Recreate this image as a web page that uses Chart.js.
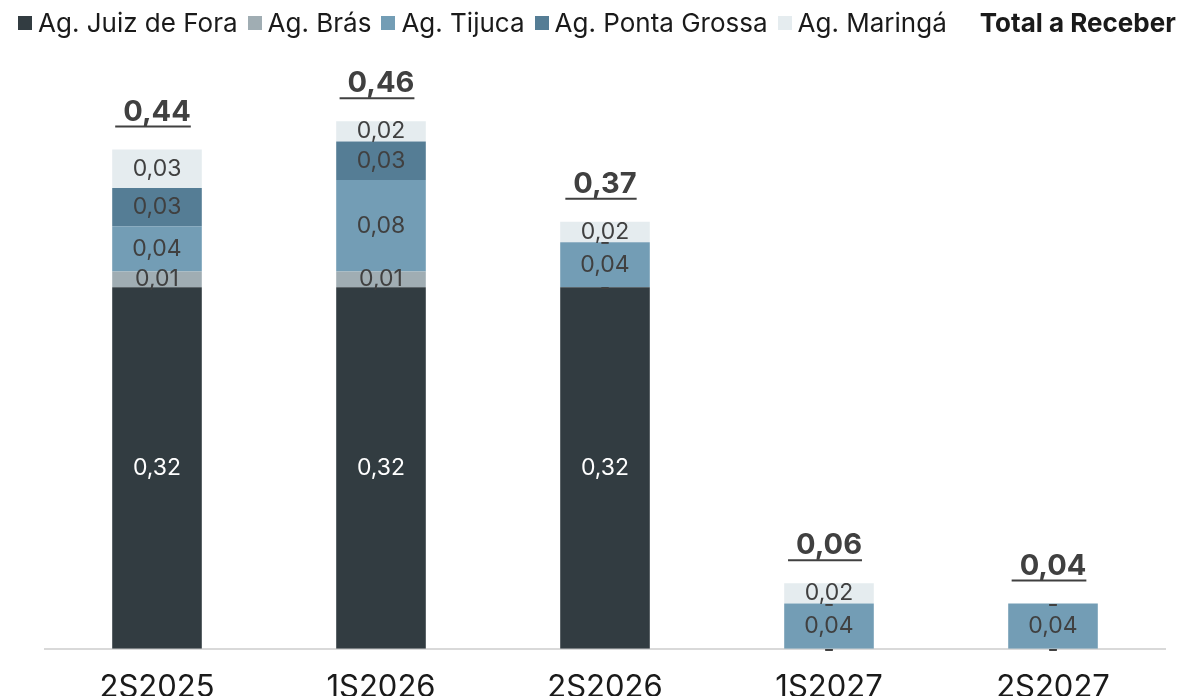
<!DOCTYPE html>
<html>
<head>
<meta charset="utf-8">
<script src="https://cdn.jsdelivr.net/npm/chart.js@4.4.0/dist/chart.umd.min.js"></script>
<style>
  html, body { margin: 0; padding: 0; background: #fff; overflow: hidden; }
  #wrap { position: relative; width: 1193px; height: 696px; overflow: hidden; }
  #legend {
    position: absolute; top: 7px; left: 18px;
    display: flex; align-items: center;
    font-family: Inter, "Noto Sans", sans-serif; font-size: 26px; color: #1a1a1a;
    white-space: nowrap;
  }
  #legend .item { display: flex; align-items: center; margin-right: 10px; }
  #legend .box { width: 14px; height: 14px; margin-right: 6px; }
  #legend .total { font-weight: 700; margin-left: 23px; }
</style>
</head>
<body>
<div id="wrap">
  <canvas id="chart" width="1193" height="726"></canvas>
  <div id="legend"></div>
</div>
<script>
// Données
const categories = ['2S2025', '1S2026', '2S2026', '1S2027', '2S2027'];
const juizDeFora = [0.32, 0.32, 0.32, 0, 0];
const bras = [0.014, 0.014, 0, 0, 0];
const tijuca = [0.04, 0.081, 0.04, 0.04, 0.04];
const pontaGrossa = [0.034, 0.034, 0, 0, 0];
const maringa = [0.034, 0.018, 0.018, 0.018, 0];
const totals = [0.44, 0.46, 0.37, 0.06, 0.04];

const seriesNames = ['Ag. Juiz de Fora', 'Ag. Brás', 'Ag. Tijuca', 'Ag. Ponta Grossa', 'Ag. Maringá'];
const seriesData = [juizDeFora, bras, tijuca, pontaGrossa, maringa];
const seriesColors = ['#323c41', '#a0adb3', '#739db5', '#557d95', '#e5ecef'];
const labelColors = ['#ffffff', '#404040', '#404040', '#404040', '#404040'];

const FONT = 'Inter, "Noto Sans", sans-serif';

function fmt(v) {
  if (!v) return '-';
  return v.toFixed(2).replace('.', ',');
}

// Légende HTML
const legendEl = document.getElementById('legend');
seriesNames.forEach((name, i) => {
  const item = document.createElement('div');
  item.className = 'item';
  item.innerHTML = '<span class="box" style="background:' + seriesColors[i] + '"></span><span></span>';
  item.lastChild.textContent = name;
  legendEl.appendChild(item);
});
const totalEl = document.createElement('div');
totalEl.className = 'total';
totalEl.textContent = 'Total a Receber';
legendEl.appendChild(totalEl);

// Plugin pour les étiquettes des segments et des totaux
const labelsPlugin = {
  id: 'barLabels',
  afterDatasetsDraw(chart) {
    const ctx = chart.ctx;
    const yScale = chart.scales.y;
    ctx.save();
    ctx.textAlign = 'center';
    ctx.textBaseline = 'middle';
    ctx.font = '23px ' + FONT;
    chart.data.datasets.forEach((ds, di) => {
      const meta = chart.getDatasetMeta(di);
      meta.data.forEach((bar, i) => {
        const v = ds.data[i];
        const props = bar.getProps(['x', 'y', 'base'], true);
        const cy = (props.y + props.base) / 2;
        ctx.fillStyle = v ? labelColors[di] : '#404040';
        ctx.fillText(fmt(v), props.x, v ? cy : cy + 1);
      });
    });

    // Totaux soulignés
    ctx.font = 'bold 29px ' + FONT;
    ctx.textBaseline = 'alphabetic';
    ctx.fillStyle = '#404040';
    ctx.strokeStyle = '#404040';
    ctx.lineWidth = 2;
    const meta0 = chart.getDatasetMeta(0);
    categories.forEach((c, i) => {
      let sum = 0;
      seriesData.forEach(arr => { sum += arr[i]; });
      const x = meta0.data[i].x;
      const top = yScale.getPixelForValue(sum);
      const txt = fmt(totals[i]);
      const w = ctx.measureText(txt).width;
      ctx.fillText(txt, x, top - 29);
      ctx.beginPath();
      ctx.moveTo(x - w / 2 - 8, top - 23);
      ctx.lineTo(x + w / 2, top - 23);
      ctx.stroke();
    });
    ctx.restore();
  }
};

new Chart(document.getElementById('chart'), {
  type: 'bar',
  data: {
    labels: categories,
    datasets: seriesNames.map((name, i) => ({
      label: name,
      data: seriesData[i],
      backgroundColor: seriesColors[i],
      borderWidth: 0,
      categoryPercentage: 1,
      barPercentage: 0.4
    }))
  },
  options: {
    responsive: false,
    animation: false,
    layout: { padding: { left: 45, right: 28, top: 84, bottom: 0 } },
    scales: {
      x: {
        stacked: true,
        grid: { display: false, drawTicks: false },
        border: { display: true, color: '#d9d9d9', width: 2 },
        ticks: { color: '#1a1a1a', font: { family: FONT, size: 31 }, padding: 20 }
      },
      y: {
        stacked: true,
        display: false,
        min: 0,
        max: 0.5
      }
    },
    plugins: {
      legend: { display: false },
      tooltip: { enabled: false }
    }
  },
  plugins: [labelsPlugin]
});
</script>
</body>
</html>
